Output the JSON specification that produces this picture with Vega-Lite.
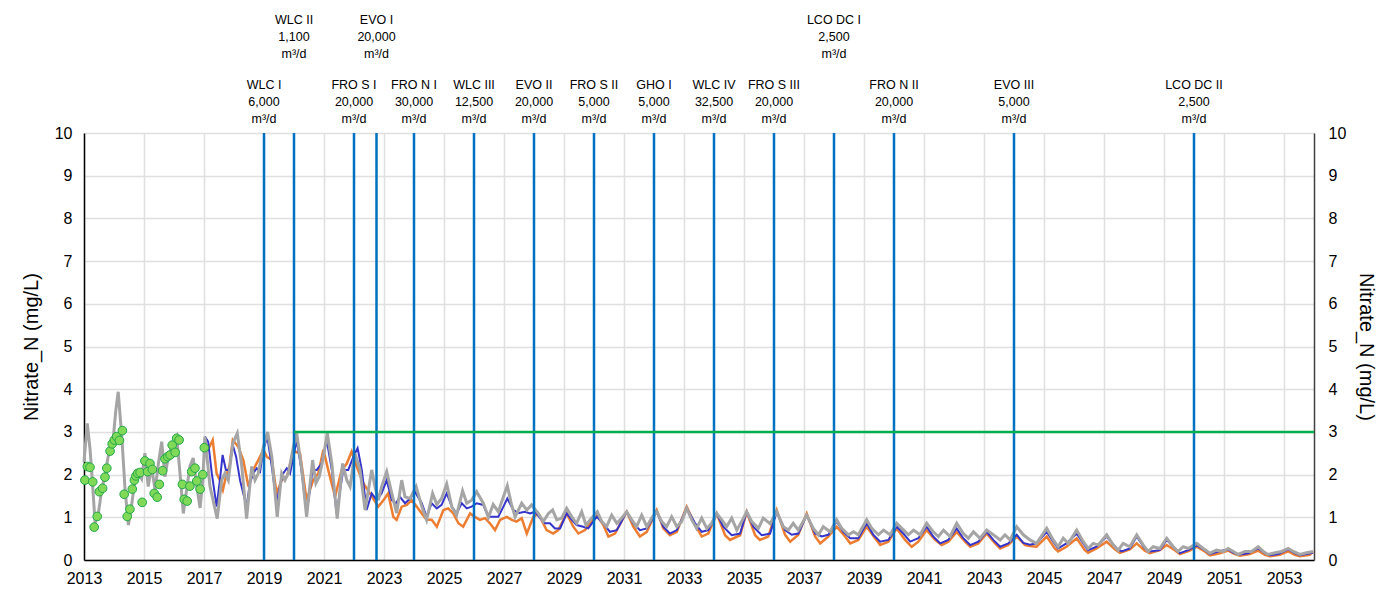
{
"$schema": "https://vega.github.io/schema/vega-lite/v6.json",
"width": 1230, "height": 427,
"autosize": {"type": "none"},
"padding": {"left": 84, "top": 133, "right": 63, "bottom": 39},
"background": "white",
"config": {"view": {"stroke": null}, "font": "Liberation Sans", "axis": {"labelFont": "Liberation Sans", "titleFont": "Liberation Sans", "labelColor": "#000", "titleColor": "#000"}},
"datasets": {
"events": [
{"year": 2019, "tier": "lower", "label": "WLC I\n6,000\nm³/d"},
{"year": 2020, "tier": "upper", "label": "WLC II\n1,100\nm³/d"},
{"year": 2022, "tier": "lower", "label": "FRO S I\n20,000\nm³/d"},
{"year": 2022.75, "tier": "upper", "label": "EVO I\n20,000\nm³/d"},
{"year": 2024, "tier": "lower", "label": "FRO N I\n30,000\nm³/d"},
{"year": 2026, "tier": "lower", "label": "WLC III\n12,500\nm³/d"},
{"year": 2028, "tier": "lower", "label": "EVO II\n20,000\nm³/d"},
{"year": 2030, "tier": "lower", "label": "FRO S II\n5,000\nm³/d"},
{"year": 2032, "tier": "lower", "label": "GHO I\n5,000\nm³/d"},
{"year": 2034, "tier": "lower", "label": "WLC IV\n32,500\nm³/d"},
{"year": 2036, "tier": "lower", "label": "FRO S III\n20,000\nm³/d"},
{"year": 2038, "tier": "upper", "label": "LCO DC I\n2,500\nm³/d"},
{"year": 2040, "tier": "lower", "label": "FRO N II\n20,000\nm³/d"},
{"year": 2044, "tier": "lower", "label": "EVO III\n5,000\nm³/d"},
{"year": 2050, "tier": "lower", "label": "LCO DC II\n2,500\nm³/d"}
],
"threshold": [{"start": 2020, "end": 2054, "value": 3}],
"observed": [
{"year":2013.03,"value":1.87},{"year":2013.11,"value":2.19},{"year":2013.2,"value":2.17},{"year":2013.29,"value":1.83},{"year":2013.34,"value":0.77},{"year":2013.44,"value":1.02},{"year":2013.51,"value":1.6},{"year":2013.62,"value":1.68},{"year":2013.7,"value":1.94},{"year":2013.76,"value":2.15},{"year":2013.87,"value":2.55},{"year":2013.94,"value":2.72},{"year":2014.01,"value":2.81},{"year":2014.09,"value":2.89},{"year":2014.18,"value":2.8},{"year":2014.28,"value":3.03},{"year":2014.34,"value":1.54},{"year":2014.44,"value":1.02},{"year":2014.53,"value":1.19},{"year":2014.61,"value":1.66},{"year":2014.68,"value":1.87},{"year":2014.73,"value":1.97},{"year":2014.79,"value":2.03},{"year":2014.87,"value":2.05},{"year":2014.94,"value":1.35},{"year":2015.03,"value":2.32},{"year":2015.12,"value":2.07},{"year":2015.2,"value":2.26},{"year":2015.28,"value":2.12},{"year":2015.34,"value":1.56},{"year":2015.44,"value":1.47},{"year":2015.51,"value":1.77},{"year":2015.62,"value":2.09},{"year":2015.7,"value":2.37},{"year":2015.79,"value":2.42},{"year":2015.87,"value":2.46},{"year":2015.94,"value":2.69},{"year":2016.04,"value":2.52},{"year":2016.09,"value":2.85},{"year":2016.17,"value":2.81},{"year":2016.28,"value":1.77},{"year":2016.34,"value":1.42},{"year":2016.44,"value":1.38},{"year":2016.53,"value":1.73},{"year":2016.59,"value":2.07},{"year":2016.7,"value":2.15},{"year":2016.76,"value":1.85},{"year":2016.87,"value":1.66},{"year":2016.96,"value":2.0},{"year":2017.01,"value":2.63}
],
"scenario3": [
{"year":2013.0,"value":2.3},{"year":2013.11,"value":3.2},{"year":2013.2,"value":2.6},{"year":2013.26,"value":2.04},{"year":2013.37,"value":0.87},{"year":2013.48,"value":1.1},{"year":2013.59,"value":1.64},{"year":2013.7,"value":2.0},{"year":2013.8,"value":2.4},{"year":2013.98,"value":2.89},{"year":2014.06,"value":3.5},{"year":2014.14,"value":3.94},{"year":2014.26,"value":2.89},{"year":2014.37,"value":1.64},{"year":2014.48,"value":0.82},{"year":2014.59,"value":1.3},{"year":2014.7,"value":1.87},{"year":2014.81,"value":2.03},{"year":2014.92,"value":1.9},{"year":2015.03,"value":2.5},{"year":2015.14,"value":1.72},{"year":2015.25,"value":2.19},{"year":2015.37,"value":1.64},{"year":2015.48,"value":2.26},{"year":2015.59,"value":2.77},{"year":2015.7,"value":1.95},{"year":2015.81,"value":2.42},{"year":2015.92,"value":2.65},{"year":2016.09,"value":2.89},{"year":2016.2,"value":2.03},{"year":2016.31,"value":1.09},{"year":2016.42,"value":1.64},{"year":2016.53,"value":2.19},{"year":2016.64,"value":2.39},{"year":2016.76,"value":1.72},{"year":2016.87,"value":1.22},{"year":2016.96,"value":1.87},{"year":2017.03,"value":2.89},{"year":2017.2,"value":1.72},{"year":2017.44,"value":0.97},{"year":2017.59,"value":1.87},{"year":2017.7,"value":2.03},{"year":2017.81,"value":1.87},{"year":2017.96,"value":2.73},{"year":2018.11,"value":2.97},{"year":2018.26,"value":2.19},{"year":2018.42,"value":0.97},{"year":2018.59,"value":2.19},{"year":2018.7,"value":1.87},{"year":2018.81,"value":2.03},{"year":2018.98,"value":2.65},{"year":2019.12,"value":3.0},{"year":2019.26,"value":2.42},{"year":2019.44,"value":1.01},{"year":2019.59,"value":2.03},{"year":2019.7,"value":1.87},{"year":2019.81,"value":2.03},{"year":2019.98,"value":2.65},{"year":2020.09,"value":2.97},{"year":2020.26,"value":2.11},{"year":2020.42,"value":1.01},{"year":2020.62,"value":2.34},{"year":2020.73,"value":1.8},{"year":2020.84,"value":1.95},{"year":2020.96,"value":2.34},{"year":2021.11,"value":2.97},{"year":2021.26,"value":2.26},{"year":2021.44,"value":0.97},{"year":2021.62,"value":2.26},{"year":2021.76,"value":1.87},{"year":2021.87,"value":1.72},{"year":2022.03,"value":2.5},{"year":2022.2,"value":2.11},{"year":2022.37,"value":1.17},{"year":2022.59,"value":2.11},{"year":2022.7,"value":1.72},{"year":2022.81,"value":1.4},{"year":2022.92,"value":1.72},{"year":2023.09,"value":2.07},{"year":2023.26,"value":1.56},{"year":2023.42,"value":1.1},{"year":2023.59,"value":1.87},{"year":2023.7,"value":1.48},{"year":2023.87,"value":1.44},{"year":2024.07,"value":1.72},{"year":2024.26,"value":1.25},{"year":2024.42,"value":0.94},{"year":2024.62,"value":1.56},{"year":2024.76,"value":1.3},{"year":2024.92,"value":1.44},{"year":2025.09,"value":1.78},{"year":2025.26,"value":1.25},{"year":2025.42,"value":1.05},{"year":2025.62,"value":1.62},{"year":2025.76,"value":1.33},{"year":2025.92,"value":1.4},{"year":2026.09,"value":1.6},{"year":2026.31,"value":1.33},{"year":2026.48,"value":1.0},{"year":2026.64,"value":1.3},{"year":2026.81,"value":1.13},{"year":2026.98,"value":1.48},{"year":2027.11,"value":1.74},{"year":2027.25,"value":1.3},{"year":2027.37,"value":1.01},{"year":2027.59,"value":1.33},{"year":2027.76,"value":1.17},{"year":2027.92,"value":1.29},{"year":2028.14,"value":1.09},{"year":2028.31,"value":0.9},{"year":2028.48,"value":1.09},{"year":2028.62,"value":1.17},{"year":2028.76,"value":0.94},{"year":2028.92,"value":0.98},{"year":2029.09,"value":1.21},{"year":2029.26,"value":1.01},{"year":2029.42,"value":0.86},{"year":2029.59,"value":1.13},{"year":2029.73,"value":0.82},{"year":2029.92,"value":0.98},{"year":2030.11,"value":1.13},{"year":2030.26,"value":0.9},{"year":2030.42,"value":0.78},{"year":2030.59,"value":1.05},{"year":2030.76,"value":0.86},{"year":2030.92,"value":0.98},{"year":2031.09,"value":1.13},{"year":2031.26,"value":0.94},{"year":2031.42,"value":0.78},{"year":2031.59,"value":1.05},{"year":2031.76,"value":0.78},{"year":2031.92,"value":0.98},{"year":2032.09,"value":1.13},{"year":2032.26,"value":0.9},{"year":2032.42,"value":0.78},{"year":2032.59,"value":1.01},{"year":2032.76,"value":0.78},{"year":2032.92,"value":0.9},{"year":2033.09,"value":1.21},{"year":2033.26,"value":0.94},{"year":2033.42,"value":0.74},{"year":2033.59,"value":0.98},{"year":2033.76,"value":0.74},{"year":2033.92,"value":0.86},{"year":2034.09,"value":1.09},{"year":2034.26,"value":0.94},{"year":2034.42,"value":0.78},{"year":2034.59,"value":0.98},{"year":2034.76,"value":0.7},{"year":2034.92,"value":0.9},{"year":2035.09,"value":1.13},{"year":2035.26,"value":0.9},{"year":2035.48,"value":0.74},{"year":2035.64,"value":0.98},{"year":2035.87,"value":0.85},{"year":2036.09,"value":1.13},{"year":2036.31,"value":0.78},{"year":2036.48,"value":0.7},{"year":2036.64,"value":0.86},{"year":2036.81,"value":0.7},{"year":2037.09,"value":1.05},{"year":2037.31,"value":0.74},{"year":2037.48,"value":0.59},{"year":2037.64,"value":0.78},{"year":2037.87,"value":0.66},{"year":2038.09,"value":0.94},{"year":2038.26,"value":0.74},{"year":2038.48,"value":0.59},{"year":2038.65,"value":0.66},{"year":2038.81,"value":0.59},{"year":2039.09,"value":0.94},{"year":2039.26,"value":0.74},{"year":2039.48,"value":0.59},{"year":2039.65,"value":0.7},{"year":2039.87,"value":0.59},{"year":2040.09,"value":0.86},{"year":2040.26,"value":0.74},{"year":2040.48,"value":0.59},{"year":2040.65,"value":0.7},{"year":2040.87,"value":0.59},{"year":2041.09,"value":0.86},{"year":2041.31,"value":0.66},{"year":2041.48,"value":0.55},{"year":2041.65,"value":0.7},{"year":2041.87,"value":0.55},{"year":2042.09,"value":0.86},{"year":2042.31,"value":0.62},{"year":2042.48,"value":0.51},{"year":2042.65,"value":0.66},{"year":2042.87,"value":0.51},{"year":2043.09,"value":0.7},{"year":2043.31,"value":0.59},{"year":2043.54,"value":0.47},{"year":2043.7,"value":0.59},{"year":2043.87,"value":0.47},{"year":2044.09,"value":0.78},{"year":2044.31,"value":0.59},{"year":2044.53,"value":0.47},{"year":2044.75,"value":0.39},{"year":2045.09,"value":0.74},{"year":2045.31,"value":0.47},{"year":2045.47,"value":0.31},{"year":2045.64,"value":0.51},{"year":2045.81,"value":0.39},{"year":2046.09,"value":0.7},{"year":2046.31,"value":0.43},{"year":2046.47,"value":0.27},{"year":2046.64,"value":0.39},{"year":2046.81,"value":0.35},{"year":2047.09,"value":0.59},{"year":2047.31,"value":0.35},{"year":2047.47,"value":0.23},{"year":2047.64,"value":0.39},{"year":2047.86,"value":0.31},{"year":2048.09,"value":0.59},{"year":2048.31,"value":0.35},{"year":2048.47,"value":0.2},{"year":2048.64,"value":0.31},{"year":2048.86,"value":0.27},{"year":2049.09,"value":0.51},{"year":2049.31,"value":0.31},{"year":2049.47,"value":0.2},{"year":2049.64,"value":0.31},{"year":2049.81,"value":0.27},{"year":2050.09,"value":0.39},{"year":2050.31,"value":0.27},{"year":2050.53,"value":0.16},{"year":2050.75,"value":0.23},{"year":2050.97,"value":0.2},{"year":2051.14,"value":0.27},{"year":2051.31,"value":0.2},{"year":2051.47,"value":0.13},{"year":2051.7,"value":0.2},{"year":2051.92,"value":0.2},{"year":2052.14,"value":0.31},{"year":2052.31,"value":0.2},{"year":2052.47,"value":0.13},{"year":2052.7,"value":0.17},{"year":2052.92,"value":0.2},{"year":2053.14,"value":0.27},{"year":2053.31,"value":0.2},{"year":2053.53,"value":0.13},{"year":2053.75,"value":0.17},{"year":2053.97,"value":0.2}
],
"scenario2": [
{"year":2017.03,"value":2.89},{"year":2017.14,"value":2.77},{"year":2017.26,"value":2.03},{"year":2017.42,"value":1.25},{"year":2017.53,"value":1.87},{"year":2017.62,"value":2.46},{"year":2017.73,"value":2.11},{"year":2017.84,"value":2.11},{"year":2017.96,"value":2.69},{"year":2018.07,"value":2.42},{"year":2018.2,"value":1.87},{"year":2018.31,"value":1.56},{"year":2018.42,"value":1.25},{"year":2018.53,"value":1.8},{"year":2018.64,"value":2.03},{"year":2018.76,"value":2.15},{"year":2018.87,"value":2.07},{"year":2018.98,"value":2.58},{"year":2019.11,"value":2.89},{"year":2019.26,"value":2.19},{"year":2019.42,"value":1.33},{"year":2019.53,"value":1.72},{"year":2019.64,"value":2.03},{"year":2019.76,"value":2.15},{"year":2019.87,"value":2.03},{"year":2020.09,"value":2.81},{"year":2020.25,"value":2.1},{"year":2020.42,"value":1.09},{"year":2020.62,"value":2.11},{"year":2020.76,"value":2.11},{"year":2020.92,"value":2.26},{"year":2021.09,"value":2.81},{"year":2021.26,"value":2.11},{"year":2021.42,"value":1.09},{"year":2021.64,"value":2.11},{"year":2021.81,"value":2.11},{"year":2021.98,"value":2.42},{"year":2022.12,"value":2.62},{"year":2022.26,"value":2.11},{"year":2022.42,"value":1.17},{"year":2022.59,"value":1.56},{"year":2022.76,"value":1.4},{"year":2022.92,"value":1.56},{"year":2023.09,"value":1.87},{"year":2023.26,"value":1.4},{"year":2023.4,"value":1.33},{"year":2023.53,"value":1.48},{"year":2023.7,"value":1.33},{"year":2023.87,"value":1.44},{"year":2024.03,"value":1.6},{"year":2024.26,"value":1.33},{"year":2024.42,"value":1.01},{"year":2024.59,"value":1.33},{"year":2024.76,"value":1.21},{"year":2024.92,"value":1.29},{"year":2025.09,"value":1.56},{"year":2025.26,"value":1.25},{"year":2025.42,"value":1.09},{"year":2025.59,"value":1.33},{"year":2025.76,"value":1.21},{"year":2025.92,"value":1.25},{"year":2026.09,"value":1.33},{"year":2026.31,"value":1.29},{"year":2026.48,"value":1.01},{"year":2026.64,"value":1.01},{"year":2026.81,"value":1.01},{"year":2026.98,"value":1.25},{"year":2027.11,"value":1.44},{"year":2027.31,"value":1.17},{"year":2027.5,"value":1.1},{"year":2027.7,"value":1.13},{"year":2027.87,"value":1.09},{"year":2028.03,"value":1.13},{"year":2028.2,"value":0.98},{"year":2028.37,"value":0.86},{"year":2028.53,"value":0.86},{"year":2028.7,"value":0.74},{"year":2028.87,"value":0.74},{"year":2029.09,"value":1.09},{"year":2029.26,"value":0.94},{"year":2029.42,"value":0.82},{"year":2029.64,"value":0.78},{"year":2029.81,"value":0.74},{"year":2030.09,"value":1.01},{"year":2030.31,"value":0.86},{"year":2030.53,"value":0.66},{"year":2030.76,"value":0.7},{"year":2031.09,"value":1.13},{"year":2031.31,"value":0.86},{"year":2031.53,"value":0.7},{"year":2031.76,"value":0.74},{"year":2032.09,"value":1.13},{"year":2032.31,"value":0.78},{"year":2032.53,"value":0.62},{"year":2032.76,"value":0.7},{"year":2033.09,"value":1.21},{"year":2033.37,"value":0.86},{"year":2033.59,"value":0.66},{"year":2033.81,"value":0.7},{"year":2034.09,"value":1.09},{"year":2034.31,"value":0.78},{"year":2034.59,"value":0.58},{"year":2034.87,"value":0.62},{"year":2035.09,"value":1.13},{"year":2035.31,"value":0.78},{"year":2035.59,"value":0.58},{"year":2035.87,"value":0.62},{"year":2036.09,"value":1.13},{"year":2036.37,"value":0.7},{"year":2036.59,"value":0.59},{"year":2036.81,"value":0.62},{"year":2037.09,"value":1.05},{"year":2037.37,"value":0.62},{"year":2037.59,"value":0.55},{"year":2037.81,"value":0.59},{"year":2038.09,"value":0.9},{"year":2038.31,"value":0.66},{"year":2038.54,"value":0.51},{"year":2038.81,"value":0.51},{"year":2039.09,"value":0.86},{"year":2039.31,"value":0.59},{"year":2039.54,"value":0.43},{"year":2039.81,"value":0.47},{"year":2040.09,"value":0.78},{"year":2040.31,"value":0.62},{"year":2040.54,"value":0.43},{"year":2040.81,"value":0.51},{"year":2041.09,"value":0.78},{"year":2041.31,"value":0.55},{"year":2041.54,"value":0.39},{"year":2041.81,"value":0.47},{"year":2042.09,"value":0.74},{"year":2042.31,"value":0.51},{"year":2042.54,"value":0.35},{"year":2042.81,"value":0.43},{"year":2043.09,"value":0.66},{"year":2043.31,"value":0.47},{"year":2043.54,"value":0.31},{"year":2043.81,"value":0.39},{"year":2044.09,"value":0.59},{"year":2044.31,"value":0.4},{"year":2044.53,"value":0.36},{"year":2044.75,"value":0.39},{"year":2045.09,"value":0.66},{"year":2045.31,"value":0.43},{"year":2045.47,"value":0.27},{"year":2045.75,"value":0.39},{"year":2046.09,"value":0.62},{"year":2046.31,"value":0.39},{"year":2046.47,"value":0.23},{"year":2046.75,"value":0.31},{"year":2047.09,"value":0.55},{"year":2047.42,"value":0.27},{"year":2047.59,"value":0.2},{"year":2047.86,"value":0.27},{"year":2048.09,"value":0.55},{"year":2048.36,"value":0.27},{"year":2048.53,"value":0.2},{"year":2048.86,"value":0.23},{"year":2049.09,"value":0.47},{"year":2049.36,"value":0.27},{"year":2049.53,"value":0.16},{"year":2049.81,"value":0.23},{"year":2050.09,"value":0.35},{"year":2050.36,"value":0.23},{"year":2050.53,"value":0.14},{"year":2050.81,"value":0.2},{"year":2051.14,"value":0.25},{"year":2051.31,"value":0.17},{"year":2051.53,"value":0.13},{"year":2051.81,"value":0.16},{"year":2052.14,"value":0.27},{"year":2052.36,"value":0.16},{"year":2052.53,"value":0.11},{"year":2052.81,"value":0.14},{"year":2053.14,"value":0.25},{"year":2053.36,"value":0.16},{"year":2053.53,"value":0.11},{"year":2053.97,"value":0.17}
],
"scenario1": [
{"year":2017.03,"value":2.73},{"year":2017.15,"value":2.6},{"year":2017.29,"value":2.81},{"year":2017.42,"value":2.03},{"year":2017.53,"value":1.87},{"year":2017.63,"value":1.64},{"year":2017.73,"value":1.95},{"year":2017.85,"value":2.2},{"year":2017.96,"value":2.81},{"year":2018.14,"value":2.65},{"year":2018.31,"value":2.34},{"year":2018.48,"value":1.72},{"year":2018.64,"value":2.11},{"year":2018.81,"value":2.34},{"year":2018.98,"value":2.58},{"year":2019.09,"value":2.42},{"year":2019.26,"value":2.34},{"year":2019.42,"value":1.56},{"year":2019.59,"value":1.87},{"year":2019.76,"value":1.95},{"year":2019.92,"value":2.38},{"year":2020.03,"value":2.54},{"year":2020.2,"value":2.5},{"year":2020.42,"value":1.4},{"year":2020.64,"value":1.87},{"year":2020.81,"value":2.03},{"year":2020.98,"value":2.58},{"year":2021.14,"value":2.11},{"year":2021.37,"value":1.48},{"year":2021.59,"value":2.11},{"year":2021.76,"value":2.26},{"year":2021.92,"value":2.54},{"year":2022.09,"value":2.19},{"year":2022.31,"value":1.8},{"year":2022.53,"value":1.56},{"year":2022.81,"value":1.25},{"year":2022.98,"value":1.4},{"year":2023.14,"value":1.56},{"year":2023.31,"value":1.01},{"year":2023.42,"value":0.94},{"year":2023.59,"value":1.25},{"year":2023.76,"value":1.29},{"year":2023.92,"value":1.4},{"year":2024.09,"value":1.25},{"year":2024.26,"value":1.09},{"year":2024.42,"value":0.94},{"year":2024.59,"value":0.94},{"year":2024.76,"value":0.78},{"year":2024.98,"value":1.17},{"year":2025.14,"value":1.21},{"year":2025.31,"value":1.09},{"year":2025.48,"value":0.86},{"year":2025.64,"value":0.78},{"year":2025.87,"value":1.09},{"year":2026.03,"value":1.01},{"year":2026.2,"value":0.94},{"year":2026.37,"value":0.98},{"year":2026.53,"value":0.86},{"year":2026.7,"value":0.7},{"year":2026.87,"value":0.94},{"year":2027.09,"value":1.01},{"year":2027.26,"value":0.94},{"year":2027.42,"value":0.9},{"year":2027.59,"value":0.98},{"year":2027.76,"value":0.62},{"year":2027.98,"value":1.01},{"year":2028.14,"value":1.09},{"year":2028.42,"value":0.7},{"year":2028.64,"value":0.62},{"year":2028.81,"value":0.7},{"year":2029.09,"value":1.09},{"year":2029.31,"value":0.78},{"year":2029.48,"value":0.62},{"year":2029.7,"value":0.7},{"year":2030.09,"value":1.05},{"year":2030.31,"value":0.82},{"year":2030.48,"value":0.55},{"year":2030.7,"value":0.62},{"year":2031.09,"value":1.13},{"year":2031.31,"value":0.78},{"year":2031.53,"value":0.55},{"year":2031.76,"value":0.66},{"year":2032.09,"value":1.17},{"year":2032.31,"value":0.74},{"year":2032.53,"value":0.58},{"year":2032.76,"value":0.66},{"year":2033.09,"value":1.25},{"year":2033.37,"value":0.82},{"year":2033.59,"value":0.55},{"year":2033.81,"value":0.62},{"year":2034.09,"value":1.09},{"year":2034.37,"value":0.58},{"year":2034.53,"value":0.47},{"year":2034.87,"value":0.58},{"year":2035.09,"value":1.13},{"year":2035.37,"value":0.58},{"year":2035.53,"value":0.47},{"year":2035.81,"value":0.55},{"year":2036.09,"value":1.17},{"year":2036.37,"value":0.59},{"year":2036.54,"value":0.43},{"year":2036.81,"value":0.59},{"year":2037.09,"value":1.09},{"year":2037.37,"value":0.55},{"year":2037.54,"value":0.39},{"year":2037.81,"value":0.55},{"year":2038.09,"value":0.78},{"year":2038.37,"value":0.55},{"year":2038.54,"value":0.39},{"year":2038.81,"value":0.47},{"year":2039.09,"value":0.78},{"year":2039.37,"value":0.51},{"year":2039.54,"value":0.35},{"year":2039.81,"value":0.43},{"year":2040.09,"value":0.74},{"year":2040.37,"value":0.47},{"year":2040.59,"value":0.31},{"year":2040.81,"value":0.43},{"year":2041.09,"value":0.7},{"year":2041.37,"value":0.47},{"year":2041.59,"value":0.35},{"year":2041.81,"value":0.43},{"year":2042.09,"value":0.66},{"year":2042.37,"value":0.43},{"year":2042.54,"value":0.31},{"year":2042.81,"value":0.39},{"year":2043.09,"value":0.62},{"year":2043.37,"value":0.39},{"year":2043.54,"value":0.27},{"year":2043.81,"value":0.35},{"year":2044.09,"value":0.55},{"year":2044.37,"value":0.35},{"year":2044.53,"value":0.33},{"year":2044.75,"value":0.31},{"year":2045.09,"value":0.55},{"year":2045.36,"value":0.27},{"year":2045.47,"value":0.2},{"year":2045.75,"value":0.31},{"year":2046.09,"value":0.51},{"year":2046.36,"value":0.23},{"year":2046.47,"value":0.17},{"year":2046.75,"value":0.27},{"year":2047.09,"value":0.43},{"year":2047.36,"value":0.25},{"year":2047.53,"value":0.17},{"year":2047.86,"value":0.25},{"year":2048.09,"value":0.39},{"year":2048.36,"value":0.22},{"year":2048.53,"value":0.16},{"year":2048.86,"value":0.23},{"year":2049.09,"value":0.35},{"year":2049.36,"value":0.23},{"year":2049.53,"value":0.14},{"year":2049.86,"value":0.22},{"year":2050.09,"value":0.31},{"year":2050.36,"value":0.2},{"year":2050.53,"value":0.11},{"year":2050.86,"value":0.16},{"year":2051.14,"value":0.22},{"year":2051.36,"value":0.14},{"year":2051.53,"value":0.1},{"year":2051.86,"value":0.14},{"year":2052.14,"value":0.22},{"year":2052.36,"value":0.12},{"year":2052.53,"value":0.09},{"year":2052.86,"value":0.12},{"year":2053.14,"value":0.2},{"year":2053.36,"value":0.12},{"year":2053.53,"value":0.09},{"year":2053.86,"value":0.12},{"year":2053.97,"value":0.2}
]
},
"resolve": {"scale": {"y": "independent"}},
"layer": [
{
"data": {"name": "scenario1"},
"mark": {"type": "line", "color": "#ED7D31", "strokeWidth": 2.5},
"encoding": {
"x": {"field": "year", "type": "quantitative", "scale": {"domain": [2013, 2054], "nice": false, "zero": false},
"axis": {"values": [2013,2015,2017,2019,2021,2023,2025,2027,2029,2031,2033,2035,2037,2039,2041,2043,2045,2047,2049,2051,2053], "format": "d", "grid": true, "gridColor": "#e0e0e0", "gridWidth": 1.5, "ticks": false, "labelFontSize": 16, "labelPadding": 10, "labelFlush": false, "domainColor": "#000", "domainWidth": 1.5, "title": null}},
"y": {"field": "value", "type": "quantitative", "scale": {"domain": [0, 10], "nice": false},
"axis": {"orient": "left", "values": [0,1,2,3,4,5,6,7,8,9,10], "grid": true, "gridColor": "#e0e0e0", "gridWidth": 1.5, "ticks": false, "labelFontSize": 16, "labelPadding": 12, "domainColor": "#000", "domainWidth": 1.5, "title": "Nitrate_N (mg/L)", "titleFontSize": 20, "titleFontWeight": "normal", "titlePadding": 13}}
}
},
{
"data": {"name": "scenario2"},
"mark": {"type": "line", "color": "#3535CC", "strokeWidth": 2},
"encoding": {
"x": {"field": "year", "type": "quantitative", "scale": {"domain": [2013, 2054], "nice": false, "zero": false}},
"y": {"field": "value", "type": "quantitative", "scale": {"domain": [0, 10], "nice": false}, "axis": null}
}
},
{
"data": {"name": "scenario3"},
"mark": {"type": "line", "color": "#A5A5A5", "strokeWidth": 3},
"encoding": {
"x": {"field": "year", "type": "quantitative", "scale": {"domain": [2013, 2054], "nice": false, "zero": false}},
"y": {"field": "value", "type": "quantitative", "scale": {"domain": [0, 10], "nice": false}, "axis": null}
}
},
{
"data": {"name": "observed"},
"mark": {"type": "circle", "size": 75, "fill": "#80D957", "fillOpacity": 1, "stroke": "#22A84A", "strokeWidth": 1},
"encoding": {
"x": {"field": "year", "type": "quantitative", "scale": {"domain": [2013, 2054], "nice": false, "zero": false}},
"y": {"field": "value", "type": "quantitative", "scale": {"domain": [0, 10], "nice": false}, "axis": null}
}
},
{
"data": {"name": "events"},
"mark": {"type": "rule", "color": "#0070C0", "strokeWidth": 2.5},
"encoding": {
"x": {"field": "year", "type": "quantitative", "scale": {"domain": [2013, 2054], "nice": false, "zero": false}}
}
},
{
"data": {"name": "threshold"},
"mark": {"type": "rule", "color": "#00B050", "strokeWidth": 2.5},
"encoding": {
"x": {"field": "start", "type": "quantitative", "scale": {"domain": [2013, 2054], "nice": false, "zero": false}},
"x2": {"field": "end"},
"y": {"field": "value", "type": "quantitative", "scale": {"domain": [0, 10], "nice": false},
"axis": {"orient": "right", "values": [0,1,2,3,4,5,6,7,8,9,10], "grid": false, "ticks": false, "labelFontSize": 16, "labelPadding": 14, "domainColor": "#404040", "domainWidth": 1.5, "title": "Nitrate_N (mg/L)", "titleFontSize": 20, "titleFontWeight": "normal", "titlePadding": 10}}
}
},
{
"data": {"name": "events"},
"mark": {"type": "text", "fontSize": 12.5, "lineBreak": "\n", "lineHeight": 17, "align": "center", "baseline": "middle", "color": "#000"},
"encoding": {
"x": {"field": "year", "type": "quantitative", "scale": {"domain": [2013, 2054], "nice": false, "zero": false}},
"y": {"field": "tier", "type": "ordinal", "scale": {"type": "point", "domain": ["upper", "lower"], "range": [-113, -48.5], "padding": 0}, "axis": null},
"text": {"field": "label"}
}
}
]
}
